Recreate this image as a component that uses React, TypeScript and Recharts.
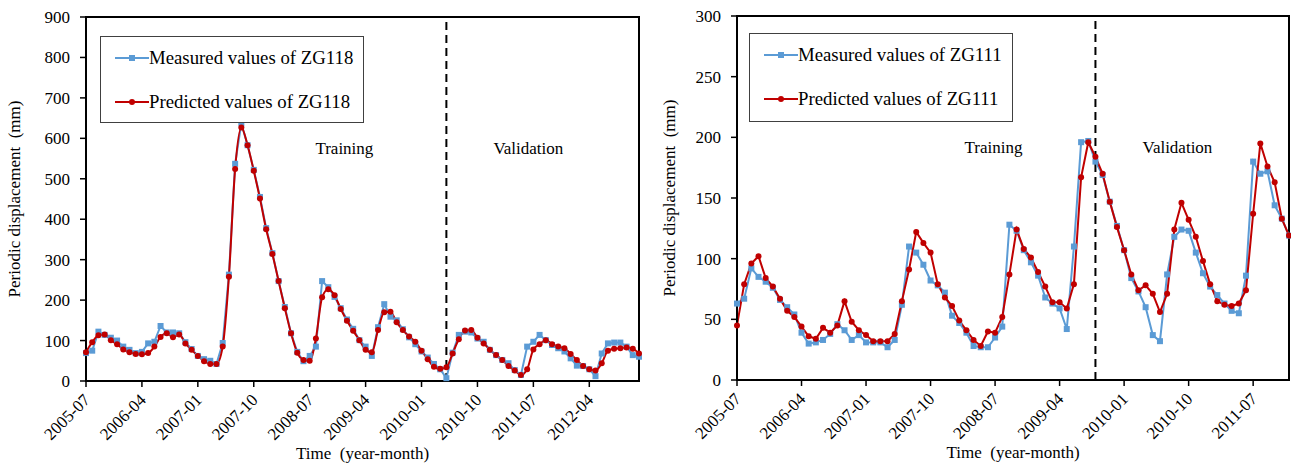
import { LineChart, Line, XAxis, YAxis, ReferenceLine, ReferenceArea, Legend } from 'recharts';

const FONT = '"Liberation Serif", "Times New Roman", serif';
const BLUE = '#5b9bd5';
const RED = '#c00000';

// Monthly observation dates, 2005-07 .. 2012-12
const months = [
  '2005-07', '2005-08', '2005-09', '2005-10', '2005-11', '2005-12',
  '2006-01', '2006-02', '2006-03', '2006-04', '2006-05', '2006-06', '2006-07', '2006-08', '2006-09', '2006-10', '2006-11', '2006-12',
  '2007-01', '2007-02', '2007-03', '2007-04', '2007-05', '2007-06', '2007-07', '2007-08', '2007-09', '2007-10', '2007-11', '2007-12',
  '2008-01', '2008-02', '2008-03', '2008-04', '2008-05', '2008-06', '2008-07', '2008-08', '2008-09', '2008-10', '2008-11', '2008-12',
  '2009-01', '2009-02', '2009-03', '2009-04', '2009-05', '2009-06', '2009-07', '2009-08', '2009-09', '2009-10', '2009-11', '2009-12',
  '2010-01', '2010-02', '2010-03', '2010-04', '2010-05', '2010-06', '2010-07', '2010-08', '2010-09', '2010-10', '2010-11', '2010-12',
  '2011-01', '2011-02', '2011-03', '2011-04', '2011-05', '2011-06', '2011-07', '2011-08', '2011-09', '2011-10', '2011-11', '2011-12',
  '2012-01', '2012-02', '2012-03', '2012-04', '2012-05', '2012-06', '2012-07', '2012-08', '2012-09', '2012-10', '2012-11', '2012-12',
];

// ZG118 periodic displacement (mm)
const measuredZG118 = [
  69, 75, 122, 114, 107, 100, 85, 77, 69, 72,
  93, 97, 136, 120, 120, 118, 96, 79, 62, 54,
  50, 42, 94, 263, 537, 637, 583, 522, 455, 378,
  316, 247, 183, 118, 72, 49, 62, 85, 247, 232,
  208, 180, 152, 129, 101, 85, 62, 133, 190, 159,
  150, 128, 108, 91, 73, 58, 42, 29, 7, 70,
  114, 122, 120, 105, 97, 77, 64, 52, 44, 27,
  15, 85, 97, 114, 101, 89, 81, 73, 56, 38,
  37, 29, 12, 68, 93, 95, 95, 85, 64, 60,
];
const predictedZG118 = [
  71, 96, 113, 115, 101, 91, 78, 71, 67, 66,
  69, 85, 109, 118, 108, 115, 93, 77, 62, 49,
  42, 42, 85, 258, 524, 627, 583, 520, 451, 375,
  314, 247, 180, 118, 70, 52, 50, 105, 207, 227,
  212, 178, 149, 124, 101, 77, 71, 126, 170, 171,
  145, 126, 110, 97, 75, 54, 35, 30, 34, 68,
  103, 125, 126, 107, 93, 77, 64, 52, 37, 26,
  15, 29, 78, 91, 101, 91, 85, 81, 67, 52,
  37, 29, 26, 44, 75, 80, 81, 83, 80, 68,
];

// ZG111 periodic displacement (mm), 2005-07 .. 2011-12
const measuredZG111 = [
  63, 67, 92, 85, 81, 76, 66, 60, 54, 39,
  30, 31, 33, 38, 46, 41, 33, 37, 31, 31,
  31, 27, 33, 62, 110, 105, 95, 82, 78, 72,
  53, 47, 39, 28, 27, 27, 35, 44, 128, 123,
  107, 97, 86, 68, 63, 59, 42, 110, 196, 197,
  180, 169, 147, 127, 107, 84, 73, 60, 37, 32,
  87, 118, 124, 123, 105, 88, 77, 70, 63, 57,
  55, 86, 180, 170, 172, 144, 133, 119,
];
const predictedZG111 = [
  45, 79, 96, 102, 84, 77, 67, 57, 52, 44,
  36, 34, 43, 39, 45, 65, 48, 41, 37, 32,
  32, 32, 38, 65, 91, 122, 113, 105, 79, 68,
  61, 49, 41, 33, 28, 40, 39, 52, 87, 124,
  108, 101, 89, 77, 64, 64, 59, 79, 167, 196,
  184, 170, 147, 126, 107, 87, 74, 78, 71, 56,
  71, 124, 146, 132, 118, 98, 79, 65, 62, 61,
  63, 74, 137, 195, 176, 163, 133, 119,
];

const ticksZG118 = [0, 100, 200, 300, 400, 500, 600, 700, 800, 900];
const ticksZG111 = [0, 50, 100, 150, 200, 250, 300];

const toRows = (dates: string[], measured: number[], predicted: number[]) =>
  dates.map((month, i) => ({ month, measured: measured[i], predicted: predicted[i] }));

const rowsZG118 = toRows(months, measuredZG118, predictedZG118);
const rowsZG111 = toRows(months.slice(0, measuredZG111.length), measuredZG111, predictedZG111);

function SquareDot({ cx, cy }: any) {
  if (cx == null || cy == null) return null;
  return <rect x={cx - 3} y={cy - 3} width={6} height={6} fill={BLUE} />;
}

function RoundDot({ cx, cy }: any) {
  if (cx == null || cy == null) return null;
  return <circle cx={cx} cy={cy} r={3} fill={RED} />;
}

// date labels slanted at 45 degrees, ending just right of the tick
function MonthTick({ x, y, payload }: any) {
  const ax = x + 5;
  const ay = y + 12;
  return (
    <text x={ax} y={ay} textAnchor="end" transform={`rotate(-45 ${ax} ${ay})`}
      fontSize={17} fontFamily={FONT} fill="#000">
      {payload.value}
    </text>
  );
}

function SeriesLegend({ payload }: any) {
  return (
    <div style={{ position: 'relative', width: '100%', height: '100%', boxSizing: 'border-box', border: '1px solid #404040', background: '#fff' }}>
      {(payload || []).map((entry: any, i: number) => (
        <div key={entry.value} style={{ position: 'absolute', left: 14, top: 21 + i * 44 - 10, height: 20, display: 'flex', alignItems: 'center' }}>
          <svg width={34} height={20}>
            <line x1={0} y1={10} x2={34} y2={10} stroke={entry.color} strokeWidth={2} />
            {entry.dataKey === 'measured'
              ? <rect x={14} y={7} width={6} height={6} fill={entry.color} />
              : <circle cx={17} cy={10} r={3} fill={entry.color} />}
          </svg>
          <span style={{ fontFamily: FONT, fontSize: 18.8, color: '#000', whiteSpace: 'nowrap' }}>{entry.value}</span>
        </div>
      ))}
    </div>
  );
}

interface PanelProps {
  rows: { month: string; measured: number; predicted: number }[];
  gauge: string;
  yTicks: number[];
  split: string;
  width: number;
  top: number;
  right: number;
  legendLeft: number;
  legendTop: number;
  legendHeight: number;
  titleX: number;
  smooth: boolean;
}

function DisplacementPanel({ rows, gauge, yTicks, split, width, top, right, legendLeft, legendTop, legendHeight, titleX, smooth }: PanelProps) {
  const yMax = yTicks[yTicks.length - 1];
  return (
    <LineChart width={width} height={466} data={rows} margin={{ top, right, bottom: 0, left: 0 }}>
      <XAxis dataKey="month" interval={8} height={466 - top - 364} tick={<MonthTick />}
        tickSize={6} tickMargin={2} axisLine={{ stroke: '#000', strokeWidth: 2 }} tickLine={{ stroke: '#000', strokeWidth: 1.5 }}
        label={({ viewBox }: any) => (
          <text x={viewBox.x + viewBox.width / 2} y={viewBox.y + 78} textAnchor="middle" fontSize={17} fontFamily={FONT} fill="#000">
            Time{'\u00a0\u00a0'}(year-month)
          </text>
        )} />
      <YAxis domain={[0, yMax]} ticks={yTicks} width={86} tickSize={6} tickMargin={10}
        tick={{ fontSize: 17, fontFamily: FONT, fill: '#000' }}
        axisLine={{ stroke: '#000', strokeWidth: 2 }} tickLine={{ stroke: '#000', strokeWidth: 1.5 }}
        label={({ viewBox }: any) => {
          const lx = viewBox.x + titleX;
          const ly = viewBox.y + viewBox.height / 2;
          return (
            <text x={lx} y={ly} textAnchor="middle" transform={`rotate(-90 ${lx} ${ly})`} fontSize={17} fontFamily={FONT} fill="#000">
              Periodic{'\u00a0'}displacement{'\u00a0\u00a0'}(mm)
            </text>
          );
        }} />
      <ReferenceArea x1={rows[0].month} x2={rows[rows.length - 1].month} y1={0} y2={yMax}
        fill="none" stroke="#000" strokeWidth={2} />
      <ReferenceLine x={split} stroke="#000" strokeWidth={2} strokeDasharray="8 5"
        label={({ viewBox }: any) => (
          <g fontSize={17} fontFamily={FONT} fill="#000">
            <text x={viewBox.x - 102} y={viewBox.y + 137} textAnchor="middle">Training</text>
            <text x={viewBox.x + 82} y={viewBox.y + 137} textAnchor="middle">Validation</text>
          </g>
        )} />
      <Legend layout="vertical" align="center" verticalAlign="middle" content={<SeriesLegend />}
        wrapperStyle={{ left: legendLeft, top: legendTop, width: 264, height: legendHeight }} />
      <Line type="linear" dataKey="measured" name={`Measured values of ${gauge}`} stroke={BLUE} strokeWidth={2}
        dot={<SquareDot />} activeDot={false} isAnimationActive={false} />
      <Line type={smooth ? 'monotone' : 'linear'} dataKey="predicted" name={`Predicted values of ${gauge}`} stroke={RED} strokeWidth={2}
        dot={<RoundDot />} activeDot={false} isAnimationActive={false} />
    </LineChart>
  );
}

export default function App() {
  return (
    <div style={{ position: 'absolute', left: 0, top: 0, width: 1291, height: 466, background: '#fff', overflow: 'hidden' }}>
      <div style={{ position: 'absolute', left: 0, top: 0 }}>
        <DisplacementPanel rows={rowsZG118} gauge="ZG118" yTicks={ticksZG118} split="2010-05"
          width={651} top={17} right={12} legendLeft={100} legendTop={36} legendHeight={87} titleX={20} smooth />
      </div>
      <div style={{ position: 'absolute', left: 651, top: 0 }}>
        <DisplacementPanel rows={rowsZG111} gauge="ZG111" yTicks={ticksZG111} split="2009-09"
          width={640} top={16} right={2} legendLeft={98} legendTop={33} legendHeight={89} titleX={24} smooth={false} />
      </div>
    </div>
  );
}
